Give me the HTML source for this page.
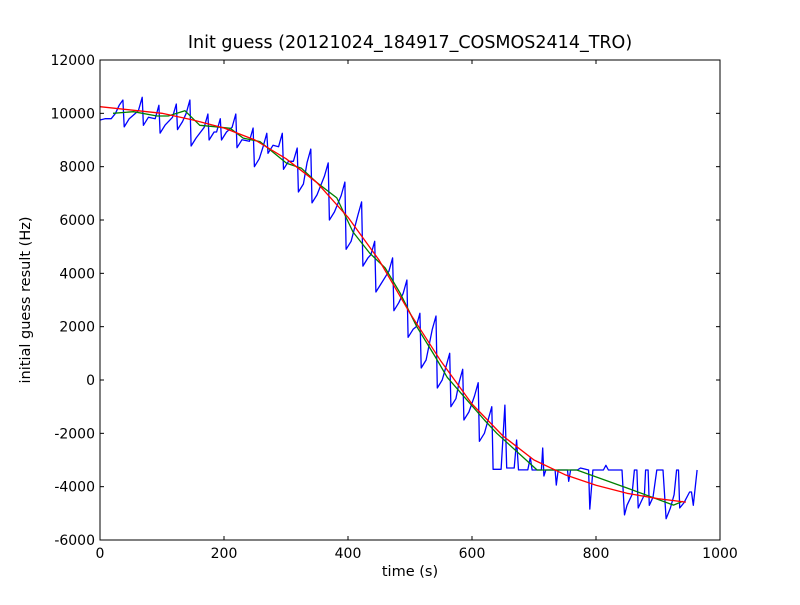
<!DOCTYPE html>
<html><head><meta charset="utf-8"><style>
body{margin:0;background:#fff}
svg text{font-family:"DejaVu Sans","Liberation Sans",sans-serif;fill:#000}
</style></head><body>
<svg id="chart" width="800" height="600" xmlns="http://www.w3.org/2000/svg">
<rect width="800" height="600" fill="#fff"/>
<text x="410" y="48" font-size="17.5" text-anchor="middle">Init guess (20121024_184917_COSMOS2414_TRO)</text>
<text x="410" y="576" font-size="14.5" text-anchor="middle">time (s)</text>
<text transform="translate(30,300) rotate(-90)" font-size="14.5" text-anchor="middle">initial guess result (Hz)</text>
<g id="plot"></g>
</svg>
<script>
const xTicks=[0,200,400,600,800,1000];
const yTicks=[-6000,-4000,-2000,0,2000,4000,6000,8000,10000,12000];
const blueT=[0,8,18,25,31,37,39,47,62,68,70,78,89,95,97,105,117,123,125,133,139,145,147,155,168,174,176,184,188,194,196,204,213,219,221,229,241,247,249,257,263,269,271,279,288,294,296,304,312,318,320,328,334,340,342,350,362,368,370,378,389,395,397,405,416,422,424,432,437,443,445,453,466,472,474,482,489,495,497,505,510,516,518,526,536,542,544,552,558,564,566,574,579,585,587,595,604,610,612,620,626,632,634,642,647,653,656,668,672,675,690,694,697,712,714,716,719,734,736,739,754,756,759,770,775,788,790,795,812,816,820,842,846,850,858,862,866,868,874,878,880,884,886,892,898,908,913,920,926,930,933,935,942,951,954,957,963];
const blueV=[9750,9800,9800,10000,10300,10500,9490,9790,10100,10600,9550,9850,9800,10300,9260,9560,9850,10350,9390,9690,10000,10500,8775,9075,9475,9975,9000,9300,9300,9800,9000,9300,9475,9975,8710,9010,8950,9450,8000,8300,8750,9250,8500,8800,8750,9250,7900,8200,8200,8700,7050,7350,8160,8660,6640,6940,7640,8140,6000,6300,6920,7420,4900,5200,6180,6680,4270,4570,4700,5200,3300,3600,4080,4580,2600,2900,3250,3750,1600,1900,2000,2500,450,750,1900,2400,-300,0,500,1000,-1000,-700,-100,400,-1500,-1200,-600,-100,-2300,-2000,-1500,-1000,-3350,-3350,-3350,-940,-3300,-3300,-2250,-3370,-3370,-2900,-3375,-3375,-2550,-3600,-3375,-3375,-3940,-3375,-3375,-3800,-3375,-3375,-3300,-3375,-4840,-3375,-3375,-3200,-3375,-3375,-5060,-4700,-4300,-3375,-3375,-4800,-4500,-4310,-3375,-3375,-4700,-4400,-3375,-3375,-5200,-4800,-4300,-3375,-3375,-4800,-4600,-4200,-4200,-4700,-3375];
const greenT=[21,54,92,110,137,161,185,210,231,258,301,325,350,382,408,435,460,484,511,540,560,590,620,640,705,769,850,925,940];
const greenV=[10000,10060,9900,9900,10100,9550,9500,9440,9070,8940,8130,7940,7400,6830,5550,4760,4200,3260,2000,900,100,-700,-1500,-2000,-3375,-3375,-4050,-4690,-4550];
const redT=[0,100,150,200,250,300,350,400,450,500,550,600,650,700,750,800,850,900,945];
const redV=[10250,10000,9750,9450,9000,8300,7400,6100,4500,2500,700,-900,-2100,-3000,-3550,-3950,-4250,-4450,-4580];

const L=100,R=720,T=60,B=540;
const sx=v=>L+(v-0)/1000*(R-L);
const sy=v=>B-(v+6000)/18000*(B-T);
const NS="http://www.w3.org/2000/svg";
const g=document.getElementById('plot');
function mk(tag,attrs){const e=document.createElementNS(NS,tag);for(const k in attrs)e.setAttribute(k,attrs[k]);g.appendChild(e);return e;}
const clip=document.createElementNS(NS,'clipPath');clip.setAttribute('id','cp');
const cr=document.createElementNS(NS,'rect');cr.setAttribute('x',L);cr.setAttribute('y',T);cr.setAttribute('width',R-L);cr.setAttribute('height',B-T);clip.appendChild(cr);g.appendChild(clip);
function line(ts,vs,color,name){
  const d=ts.map((t,i)=>(i?'L':'M')+sx(t).toFixed(1)+','+sy(vs[i]).toFixed(1)).join('');
  const p=mk('path',{d:d,fill:'none',stroke:color,'stroke-width':1.3,'clip-path':'url(#cp)','stroke-linejoin':'round'});
  
  
}
line(blueT,blueV,'#0000ff','series-blue-raw');
line(greenT,greenV,'#008000','series-green-smoothed');
line(redT,redV,'#ff0000','series-red-fit');
const fr=mk('rect',{x:L,y:T,width:R-L,height:B-T,fill:'none',stroke:'#000','stroke-width':1});


xTicks.forEach(v=>{
  const x=sx(v);
  mk('line',{x1:x,x2:x,y1:B,y2:B-4,stroke:'#000'});
  mk('line',{x1:x,x2:x,y1:T,y2:T+4,stroke:'#000'});
  const t=mk('text',{x:x,y:B+18,'font-size':14,'text-anchor':'middle'});t.textContent=v;
  
  
});
yTicks.forEach(v=>{
  const y=sy(v);
  mk('line',{x1:L,x2:L+4,y1:y,y2:y,stroke:'#000'});
  mk('line',{x1:R,x2:R-4,y1:y,y2:y,stroke:'#000'});
  const t=mk('text',{x:L-5,y:y+5,'font-size':14,'text-anchor':'end'});t.textContent=v;
  
  
});
</script>
</body></html>
